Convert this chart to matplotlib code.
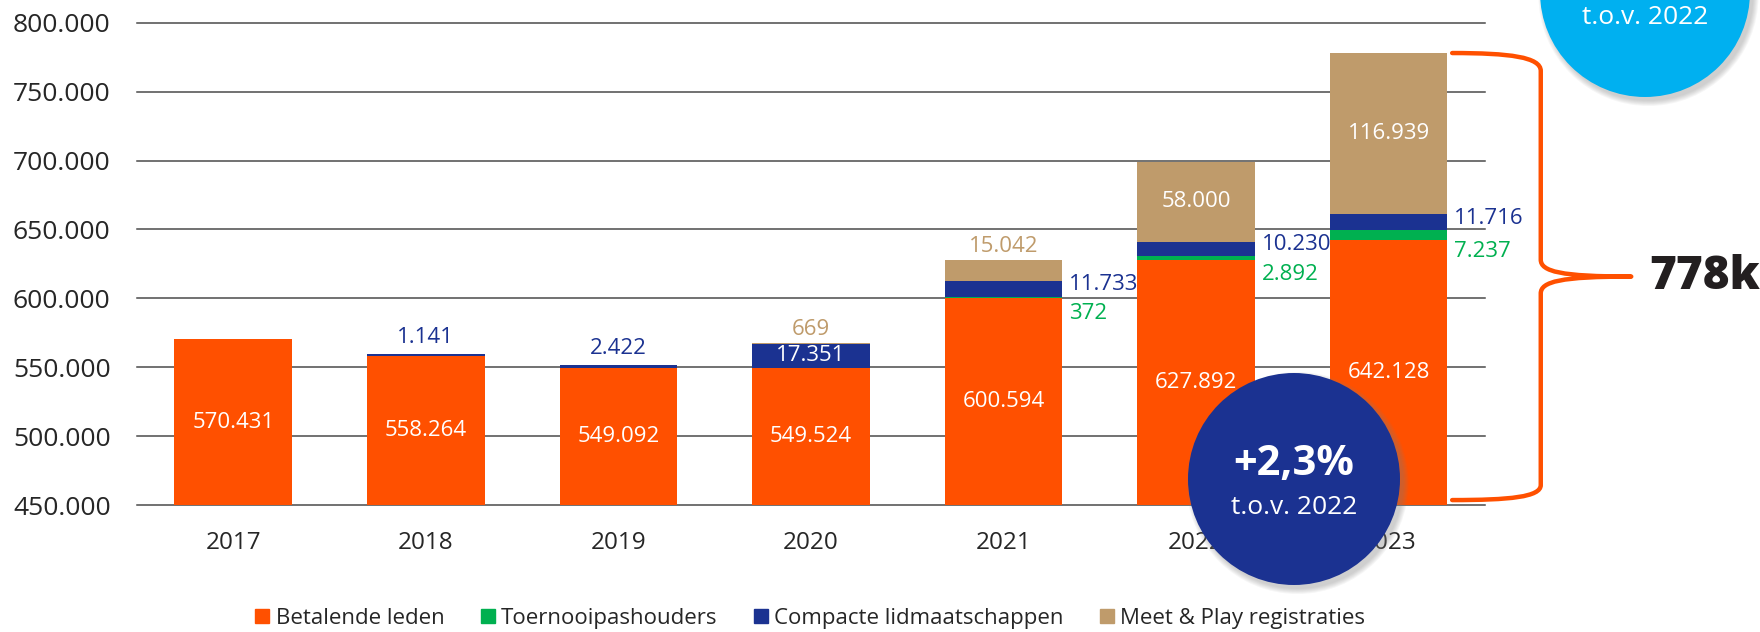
import matplotlib
matplotlib.use("Agg")
import matplotlib.pyplot as plt
from matplotlib.patches import Circle, PathPatch
from matplotlib.path import Path
from matplotlib.lines import Line2D
from matplotlib.ticker import FuncFormatter

plt.rcParams["font.family"] = ["Open Sans", "DejaVu Sans"]

# ___ data
years = ["2017", "2018", "2019", "2020", "2021", "2022", "2023"]
betalende = [570431, 558264, 549092, 549524, 600594, 627892, 642128]
toernooi = [0, 0, 0, 0, 372, 2892, 7237]
compact = [0, 1141, 2422, 17351, 11733, 10230, 11716]
meetplay = [0, 0, 0, 669, 15042, 58000, 116939]
series_names = ["Betalende leden", "Toernooipashouders",
                "Compacte lidmaatschappen", "Meet & Play registraties"]
yticks = [450000, 500000, 550000, 600000, 650000, 700000, 750000, 800000]

# where the small segment labels go
compact_pos = ["", "above", "above", "inside", "right", "right", "right"]
meetplay_pos = ["", "", "", "above", "above", "inside", "inside"]
toernooi_pos = ["", "", "", "", "right", "right", "right"]

ORANGE = "#FF5000"
GREEN = "#00B050"
BLUE = "#1B3291"
TAN = "#BF9B6B"
CYAN = "#00B0F0"
GRID = "#4a4a4a"
TXT = "#262626"

ylim = (450000, 800000)
width = 0.61


def nl(v):
    return "{:,}".format(int(v)).replace(",", ".")


fig = plt.figure(figsize=(17.6, 6.32), dpi=100)
ax = fig.add_axes([0.0778, 0.2009, 0.7659, 0.7631])

x = list(range(len(years)))
b1 = betalende
b2 = [a + b for a, b in zip(b1, toernooi)]
b3 = [a + b for a, b in zip(b2, compact)]
tot = [a + b for a, b in zip(b3, meetplay)]

ax.bar(x, betalende, width, color=ORANGE, zorder=2)
ax.bar(x, toernooi, width, bottom=b1, color=GREEN, zorder=2)
ax.bar(x, compact, width, bottom=b2, color=BLUE, zorder=2)
ax.bar(x, meetplay, width, bottom=b3, color=TAN, zorder=2)

for t in yticks:
    ax.axhline(t, color=GRID, lw=1.1, zorder=0, clip_on=False)

ax.set_xlim(-0.5, 6.5)
ax.set_ylim(*ylim)
ax.set_yticks(yticks)
ax.yaxis.set_major_formatter(FuncFormatter(lambda v, p: nl(v)))
ax.set_xticks(x)
ax.set_xticklabels(years)
ax.tick_params(axis="y", length=0, pad=19, labelsize=19, labelcolor=TXT)
ax.tick_params(axis="x", length=0, pad=19, labelsize=17.5, labelcolor=TXT)
for s in ax.spines.values():
    s.set_visible(False)

# ___ labels
lab = dict(fontsize=16, textcoords="offset points")
for i in x:
    ax.annotate(nl(betalende[i]), xy=(i, (ylim[0] + betalende[i]) / 2),
                xytext=(0, 0), ha="center", va="center", color="white", **lab)

    if compact_pos[i] == "above":
        ax.annotate(nl(compact[i]), xy=(i, tot[i]), xytext=(0, 8),
                    ha="center", va="baseline", color=BLUE, **lab)
    elif compact_pos[i] == "inside":
        ax.annotate(nl(compact[i]), xy=(i, b2[i] + compact[i] / 2), xytext=(0, 0),
                    ha="center", va="center", color="white", **lab)
    elif compact_pos[i] == "right":
        ax.annotate(nl(compact[i]), xy=(i + width / 2, b2[i] + compact[i] / 2),
                    xytext=(5, 3), ha="left", va="center", color=BLUE, **lab)

    if toernooi_pos[i] == "right":
        ax.annotate(nl(toernooi[i]), xy=(i + width / 2, b1[i] + toernooi[i] / 2),
                    xytext=(5, -12), ha="left", va="center", color=GREEN, **lab)

    if meetplay_pos[i] == "above":
        ax.annotate(nl(meetplay[i]), xy=(i, tot[i]), xytext=(0, 6),
                    ha="center", va="baseline", color=TAN, **lab)
    elif meetplay_pos[i] == "inside":
        ax.annotate(nl(meetplay[i]), xy=(i, b3[i] + meetplay[i] / 2), xytext=(0, 0),
                    ha="center", va="center", color="white", **lab)

# ___ brace round the 2023 total
top = tot[-1]
bot = ylim[0] + 3600
mid = (top + bot) / 2
x0, xv, xt = 6.33, 6.79, 7.26
verts = [(x0, top), (x0 + 0.30, top), (xv, top - 2900), (xv, top - 13000),
         (xv, mid + 12300),
         (xv, mid + 3600), (xv + 0.104, mid), (xt, mid),
         (xv + 0.104, mid), (xv, mid - 3600), (xv, mid - 12300),
         (xv, bot + 10900),
         (xv, bot + 2200), (x0 + 0.30, bot), (x0, bot)]
codes = [Path.MOVETO, Path.CURVE4, Path.CURVE4, Path.CURVE4,
         Path.LINETO,
         Path.CURVE4, Path.CURVE4, Path.CURVE4,
         Path.CURVE4, Path.CURVE4, Path.CURVE4,
         Path.LINETO,
         Path.CURVE4, Path.CURVE4, Path.CURVE4]
ax.add_patch(PathPatch(Path(verts, codes), fill=False, edgecolor=ORANGE,
                       lw=3.2, capstyle="round", joinstyle="round",
                       clip_on=False, zorder=3))
ax.annotate("{:.0f}k".format(top / 1000), xy=(xt, mid), xytext=(13, 0),
            textcoords="offset points", ha="left", va="center",
            fontsize=33, fontweight="heavy", color="#231F20",
            annotation_clip=False)

# ___ bubbles
tr = fig.dpi_scale_trans


def bubble(cx, cy, r, color):
    for k in range(6):
        fig.add_artist(Circle((cx + 0.035, cy - 0.04), r + 0.01 * (5 - k),
                              transform=tr, color="#808080",
                              alpha=0.07, lw=0, zorder=4))
    fig.add_artist(Circle((cx, cy), r, transform=tr, color=color, lw=0, zorder=5))


pct = (betalende[-1] / betalende[-2] - 1) * 100
bubble(12.94, 1.53, 1.06, BLUE)
fig.text(12.94, 1.67, "+{:.1f}%".format(pct).replace(".", ","), transform=tr,
         ha="center", va="center", fontsize=30, fontweight="bold",
         color="white", zorder=6)
fig.text(12.94, 1.25, "t.o.v. 2022", transform=tr, ha="center", va="center",
         fontsize=19, color="white", zorder=6)

bubble(16.45, 6.40, 1.05, CYAN)
fig.text(16.45, 6.15, "t.o.v. 2022", transform=tr, ha="center", va="center",
         fontsize=19, color="white", zorder=6)

# ___ legend
handles = [Line2D([], [], ls="", marker="s", markersize=10.5, color=c)
           for c in (ORANGE, GREEN, BLUE, TAN)]
fig.legend(handles, series_names, loc="center", bbox_to_anchor=(0.4605, 0.021),
           ncol=4, frameon=False, fontsize=16, handlelength=0.6,
           handletextpad=0.3, columnspacing=1.65, labelcolor=TXT)

fig.savefig("out.png", dpi=100)
